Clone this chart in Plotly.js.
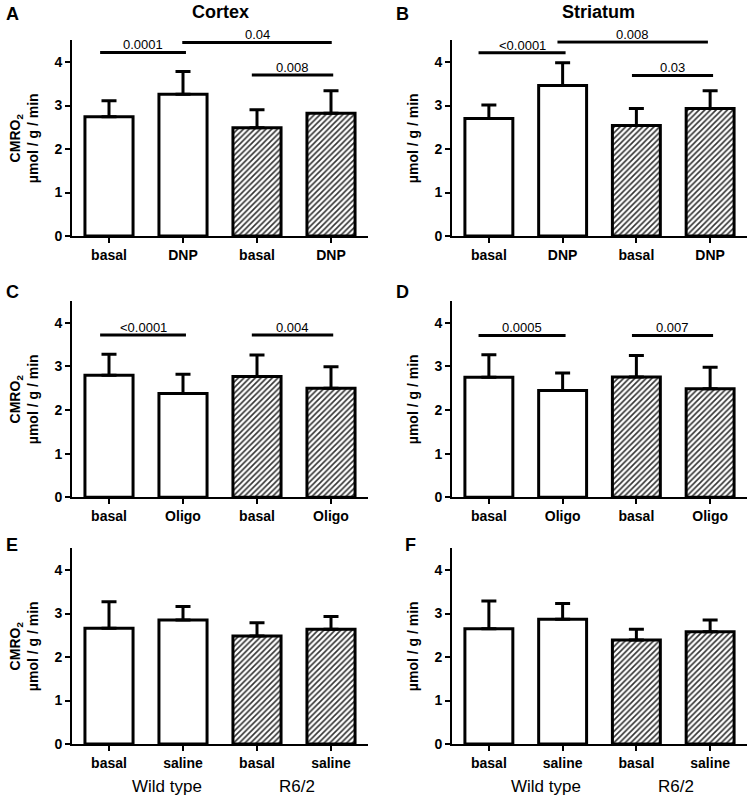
<!DOCTYPE html>
<html>
<head>
<meta charset="utf-8">
<script src="https://cdn.plot.ly/plotly-3.0.1.min.js"></script>
<style>html,body{margin:0;padding:0;background:#fff;}</style>
</head>
<body>
<div id="chart" style="width:750px;height:800px;"></div>
<script>
// ---- data ----
const positions = [0, 1, 2, 3];
const labelsDNP = ["basal", "DNP", "basal", "DNP"];
const labelsOligo = ["basal", "Oligo", "basal", "Oligo"];
const labelsSaline = ["basal", "saline", "basal", "saline"];
const genotypes = ["Wild type", "R6/2"];

const meanA = [2.74, 3.26, 2.49, 2.82];
const errA  = [0.37, 0.52, 0.41, 0.52];
const meanB = [2.70, 3.46, 2.54, 2.93];
const errB  = [0.31, 0.52, 0.39, 0.41];
const meanC = [2.80, 2.38, 2.77, 2.50];
const errC  = [0.48, 0.44, 0.49, 0.49];
const meanD = [2.75, 2.45, 2.76, 2.49];
const errD  = [0.52, 0.40, 0.49, 0.49];
const meanE = [2.66, 2.85, 2.48, 2.64];
const errE  = [0.61, 0.31, 0.31, 0.29];
const meanF = [2.65, 2.87, 2.39, 2.58];
const errF  = [0.64, 0.36, 0.25, 0.27];

// significance brackets: [x0, x1, y, p]
const sigA = [[-0.12, 1.04, 4.22, "0.0001"], [0.99, 3.01, 4.45, "0.04"], [1.93, 3.03, 3.70, "0.008"]];
const sigB = [[-0.14, 1.04, 4.21, "<0.0001"], [0.93, 2.97, 4.46, "0.008"], [1.94, 3.04, 3.69, "0.03"]];
const sigC = [[-0.12, 1.04, 3.72, "<0.0001"], [1.93, 3.03, 3.72, "0.004"]];
const sigD = [[-0.14, 1.04, 3.71, "0.0005"], [1.94, 3.04, 3.71, "0.007"]];
const sigE = [];
const sigF = [];

// ---- build ----
const FONT = "Liberation Sans, Arial, sans-serif";
const W = 750, H = 800;
const colDom = [[72 / W, 368 / W], [452 / W, 747 / W]];
const rowDom = [[1 - 236 / H, 1 - 40.25 / H], [1 - 497.3 / H, 1 - 301 / H], [1 - 744 / H, 1 - 548.25 / H]];

const panels = [
  {mean: meanA, err: errA, labels: labelsDNP, sig: sigA, letter: "A", col: 0, row: 0},
  {mean: meanB, err: errB, labels: labelsDNP, sig: sigB, letter: "B", col: 1, row: 0},
  {mean: meanC, err: errC, labels: labelsOligo, sig: sigC, letter: "C", col: 0, row: 1},
  {mean: meanD, err: errD, labels: labelsOligo, sig: sigD, letter: "D", col: 1, row: 1},
  {mean: meanE, err: errE, labels: labelsSaline, sig: sigE, letter: "E", col: 0, row: 2},
  {mean: meanF, err: errF, labels: labelsSaline, sig: sigF, letter: "F", col: 1, row: 2}
];

const data = [];
const layout = {
  width: W, height: H,
  margin: {l: 0, r: 0, t: 0, b: 0},
  paper_bgcolor: "#fff", plot_bgcolor: "#fff",
  showlegend: false,
  font: {family: FONT, color: "#000", size: 14},
  shapes: [], annotations: []
};

panels.forEach((p, i) => {
  const n = i === 0 ? "" : String(i + 1);
  const xa = "x" + n, ya = "y" + n;
  data.push({
    type: "bar", x: positions, y: p.mean, width: 0.65,
    xaxis: xa, yaxis: ya,
    marker: {
      color: "#fff",
      line: {color: "#000", width: 3},
      pattern: {shape: ["", "", "/", "/"], fgcolor: "#333", bgcolor: "#fff", size: 4, solidity: 0.4}
    },
    error_y: {type: "data", symmetric: false, array: p.err, arrayminus: [0, 0, 0, 0],
              color: "#000", thickness: 3, width: 7.5},
    hoverinfo: "skip"
  });
  layout["xaxis" + n] = {
    domain: colDom[p.col], anchor: ya, range: [-0.5, 3.5],
    tickvals: positions, ticktext: p.labels,
    showline: true, linecolor: "#000", linewidth: 2,
    ticks: "outside", ticklen: 5, tickwidth: 2, tickcolor: "#000",
    showgrid: false, zeroline: false, fixedrange: true,
    tickfont: {family: FONT, size: 14, color: "#000", weight: "bold"}
  };
  layout["yaxis" + n] = {
    domain: rowDom[p.row], anchor: xa, range: [0, 4.5],
    tickvals: [0, 1, 2, 3, 4],
    showline: true, linecolor: "#000", linewidth: 2,
    ticks: "outside", ticklen: 5, tickwidth: 2, tickcolor: "#000",
    showgrid: false, zeroline: false, fixedrange: true,
    tickfont: {family: FONT, size: 14, color: "#000", weight: "bold"}
  };
  p.sig.forEach(s => {
    layout.shapes.push({type: "line", xref: xa, yref: ya, x0: s[0], x1: s[1], y0: s[2], y1: s[2],
                        line: {color: "#000", width: 3}});
    layout.annotations.push({xref: xa, yref: ya, x: (s[0] + s[1]) / 2, y: s[2], text: s[3],
                             showarrow: false, yanchor: "bottom", xanchor: "center", yshift: -2,
                             font: {family: FONT, size: 13, color: "#000"}});
  });
  // panel letter
  const letterX = p.col === 0 ? 12 : 402 + (p.row === 2 ? 8 : 0);
  const letterY = [14, 292, 545][p.row];
  layout.annotations.push({xref: "paper", yref: "paper", x: letterX / W, y: 1 - letterY / H, text: p.letter,
                           showarrow: false, xanchor: "center", yanchor: "middle",
                           font: {family: FONT, size: 18, color: "#000", weight: "bold"}});
  // y-axis title
  const midY = (rowDom[p.row][0] + rowDom[p.row][1]) / 2;
  const ytext = p.col === 0 ? "CMRO<sub>2</sub><br>µmol / g / min" : "µmol / g / min";
  const yx = p.col === 0 ? 24 : 413;
  layout.annotations.push({xref: "paper", yref: "paper", x: yx / W, y: midY, text: ytext, textangle: -90,
                           showarrow: false, xanchor: "center", yanchor: "middle",
                           font: {family: FONT, size: 14, color: "#000", weight: "bold"}});
});

// column titles
layout.annotations.push({xref: "paper", yref: "paper", x: 220 / W, y: 1 - 12 / H, text: "Cortex",
                         showarrow: false, xanchor: "center", yanchor: "middle", font: {family: FONT, size: 18, color: "#000", weight: "bold"}});
layout.annotations.push({xref: "paper", yref: "paper", x: 598 / W, y: 1 - 12 / H, text: "Striatum",
                         showarrow: false, xanchor: "center", yanchor: "middle", font: {family: FONT, size: 18, color: "#000", weight: "bold"}});

// genotype labels under bottom panels
["x5", "x6"].forEach(xa => {
  layout.annotations.push({xref: xa, yref: "paper", x: 0.78, y: 1 - 786 / H, text: genotypes[0],
                           showarrow: false, xanchor: "center", yanchor: "middle", font: {family: FONT, size: 17, color: "#000"}});
  layout.annotations.push({xref: xa, yref: "paper", x: 2.54, y: 1 - 786 / H, text: genotypes[1],
                           showarrow: false, xanchor: "center", yanchor: "middle", font: {family: FONT, size: 17, color: "#000"}});
});

Plotly.newPlot("chart", data, layout, {displayModeBar: false, staticPlot: true});
</script>
</body>
</html>
